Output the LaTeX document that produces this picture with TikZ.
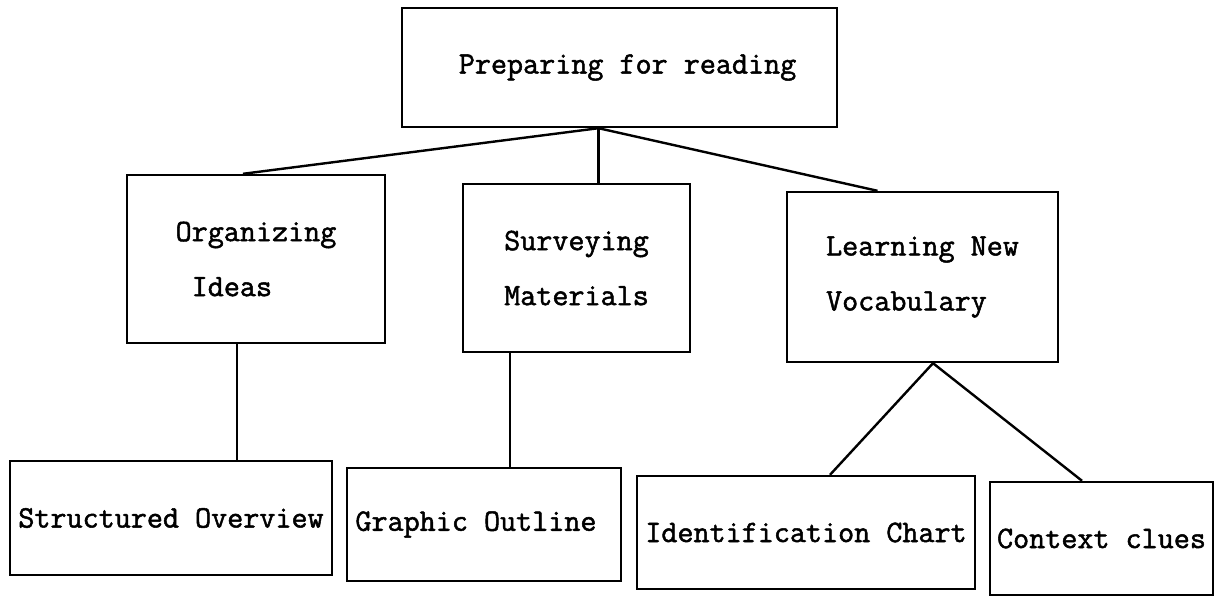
\documentclass[tikz,border=0pt]{standalone}
\usepackage{fontspec}
\setmonofont[AutoFakeBold=1.6]{Latin Modern Mono}
\usetikzlibrary{calc}
\tikzset{
  box/.style={draw, line width=1.2pt, inner sep=0pt, align=center,
    font=\ttfamily\bfseries\fontsize{15.6pt}{27.5pt}\selectfont},
  twoline/.style={box, align=left}
}
\begin{document}
\begin{tikzpicture}[x=0.5pt,y=-0.5pt]
        \useasboundingbox (0,0) rectangle (1215,600);
        %% boxes
        \node[box, minimum width=217.5pt, minimum height=59.5pt] (top) at (619.5,67.5) {\hphantom{x}Preparing for reading};
        \node[twoline, minimum width=129pt, minimum height=84pt] (org) at (256,259) {Organizing\\\hphantom{x}Ideas};
        \node[twoline, minimum width=113.5pt, minimum height=84pt] (surv) at (576.5,268) {Surveying\\Materials};
        \node[twoline, minimum width=135.5pt, minimum height=85pt] (lrn) at (922.5,277) {Learning New\\Vocabulary};
        \node[box, minimum width=161pt, minimum height=57pt] (str) at (171,518) {Structured Overview};
        \node[box, minimum width=137pt, minimum height=56.5pt] (gra) at (484,524.5) {Graphic Outline\hphantom{x}};
        \node[box, minimum width=169pt, minimum height=56.5pt] (idn) at (806,532.5) {Identification Chart};
        \node[box, minimum width=111.5pt, minimum height=56.5pt] (ctx) at (1101.5,538.5) {Context clues};
        %% lines
        \coordinate (apex) at ($(top.south)+(-21,0)$);
        \coordinate (orgdown) at ($(org.south)+(-19,0)$);
        \coordinate (survdown) at ($(surv.south)+(-66.5,0)$);
        \coordinate (lrndown) at ($(lrn.south)+(10.5,0)$);
        \draw[line width=1.2pt] (apex) -- ($(org.north)+(-13,0)$);
        \draw[line width=1.2pt] (apex) -- (apex |- surv.north);
        \draw[line width=1.2pt] (apex) -- ($(lrn.north)+(-45,0)$);
        \draw[line width=1.2pt] (orgdown) -- (orgdown |- str.north);
        \draw[line width=1.2pt] (survdown) -- (survdown |- gra.north);
        \draw[line width=1.2pt] ($(idn.north)+(24,0)$) -- (lrndown) -- ($(ctx.north)+(-19.5,0)$);
\end{tikzpicture}
\end{document}
